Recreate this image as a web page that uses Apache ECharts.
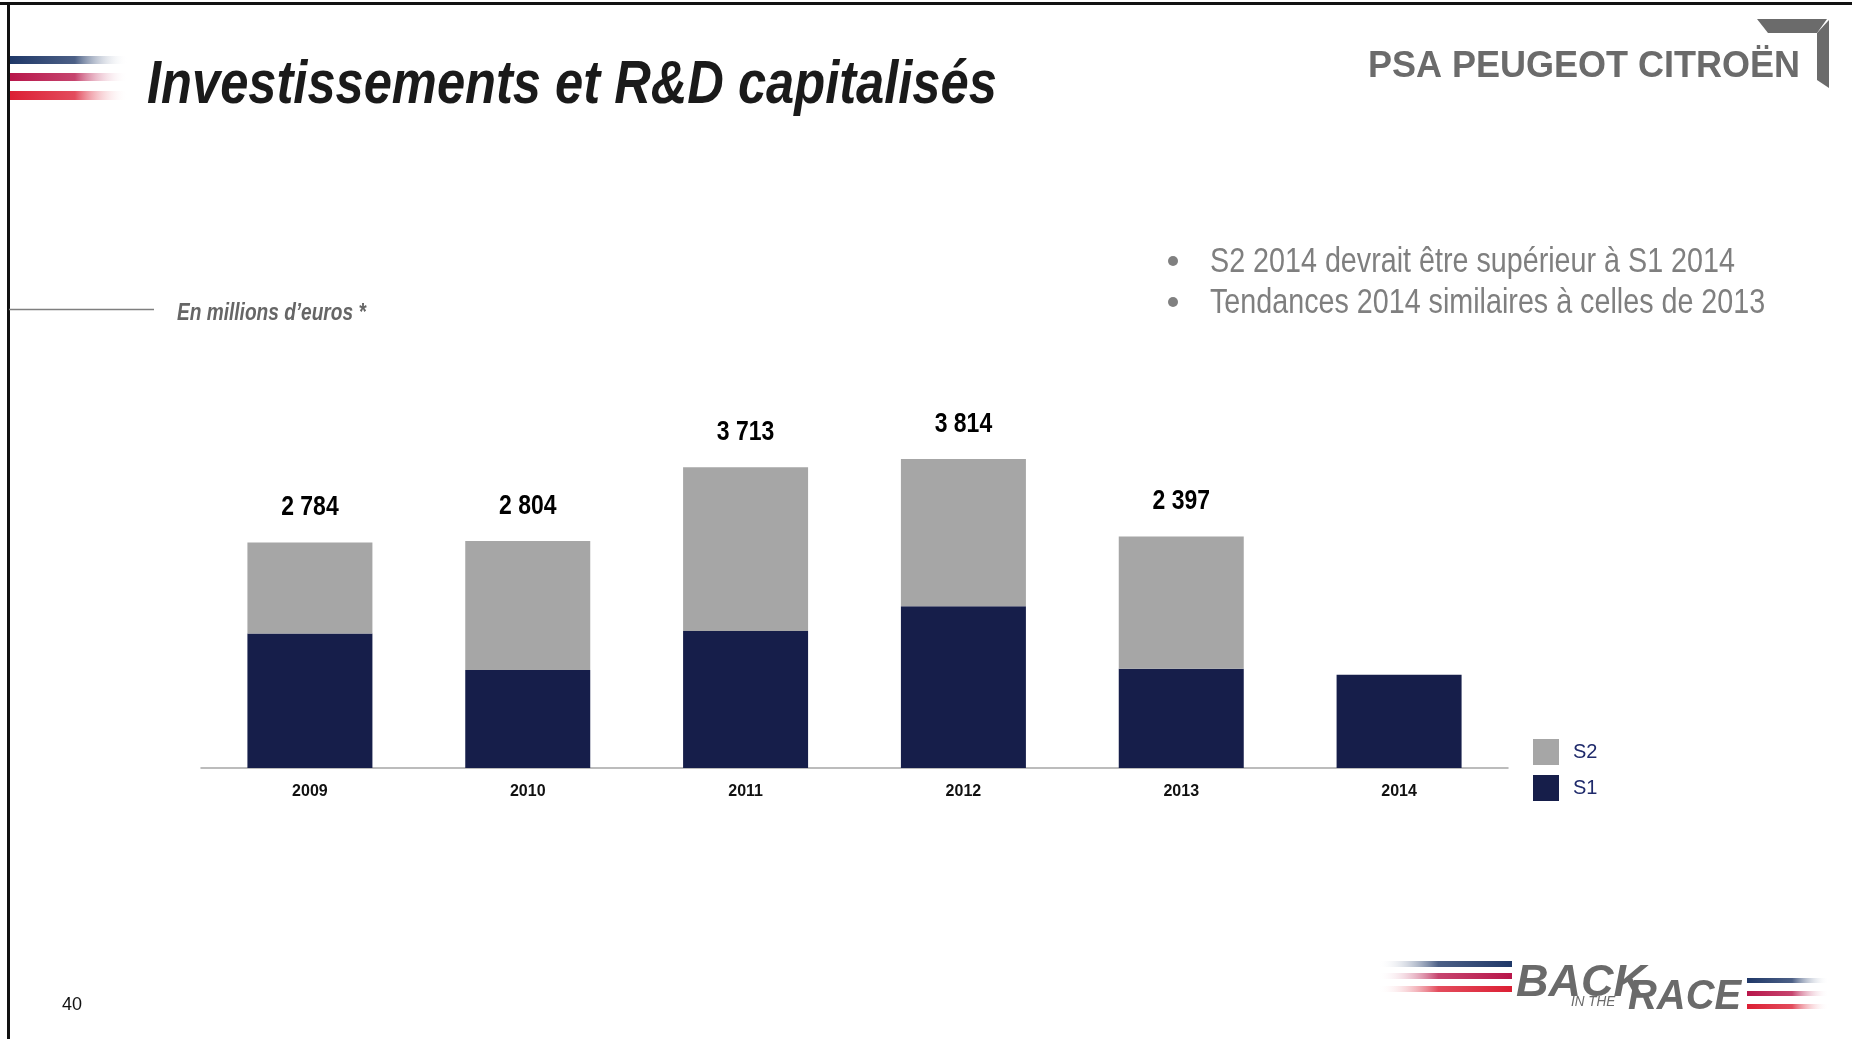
<!DOCTYPE html>
<html>
<head>
<meta charset="utf-8">
<script src="https://cdn.jsdelivr.net/npm/echarts@6/dist/echarts.min.js"></script>
<style>
html,body{margin:0;padding:0;background:#fff;}
#c{width:1852px;height:1039px;}
</style>
</head>
<body>
<div id="c"></div>
<script>
const categories = ['2009','2010','2011','2012','2013','2014'];
const s1 = [1662, 1210, 1691, 1997, 1224, 1152];
const s2 = [1122, 1594, 2022, 1817, 1633, null];
const totalLabels = ['2 784','2 804','3 713','3 814','2 397',''];
const bullets = ['S2 2014 devrait être supérieur à S1 2014','Tendances 2014 similaires à celles de 2013'];

const SANS = '"Liberation Sans",Arial,sans-serif';
const NAVY = '#161e4a';
const GRAY = '#a6a6a6';
const SX = 0.82;

function stripeGrad(c){
  return {type:'linear',x:0,y:0,x2:1,y2:0,colorStops:[
    {offset:0,color:c},{offset:0.55,color:c+'cc'},{offset:1,color:'rgba(255,255,255,0)'}]};
}
function stripeGradR(c){
  return {type:'linear',x:0,y:0,x2:1,y2:0,colorStops:[
    {offset:0,color:'rgba(255,255,255,0)'},{offset:0.45,color:c+'cc'},{offset:1,color:c}]};
}
function ntext(x, y, text, font, fill, sx){
  return {type:'text', x:x, y:y, scaleX:(sx||SX), style:{x:0,y:0,text:text,font:font,fill:fill,verticalAlign:'top'}};
}

const stackTop = categories.map((c,i)=>[i, (s1[i]||0)+(s2[i]||0)]);

const chart = echarts.init(document.getElementById('c'));
chart.setOption({
  backgroundColor:'#fff',
  animation:false,
  grid:{left:201,right:344,top:363,bottom:271},
  legend:{
    orient:'vertical', left:1528, top:734, itemWidth:26, itemHeight:26, itemGap:10,
    icon:'rect', data:['S2','S1'],
    textStyle:{color:'#1f2a6b',fontSize:20,fontFamily:SANS,padding:[0,0,0,9]}
  },
  xAxis:{
    type:'category', data:categories,
    axisLine:{lineStyle:{color:'#a6a6a6',width:1.5}},
    axisTick:{show:false},
    axisLabel:{color:'#111',fontSize:16,fontWeight:'bold',fontFamily:SANS,margin:16}
  },
  yAxis:{type:'value',min:0,max:5000,show:false,splitLine:{show:false}},
  series:[
    {name:'S1',type:'bar',stack:'t',data:s1,barWidth:125,itemStyle:{color:NAVY}},
    {name:'S2',type:'bar',stack:'t',data:s2,barWidth:125,itemStyle:{color:GRAY}},
    {name:'totals',type:'custom',data:stackTop,silent:true,z:5,
     renderItem:function(params, api){
       const i = params.dataIndex;
       const pt = api.coord([api.value(0), api.value(1)]);
       return {type:'text', x:pt[0], y:pt[1]-21, scaleX:SX,
         style:{x:0,y:0,text:totalLabels[i],font:'bold 28px '+SANS,fill:'#000',align:'center',verticalAlign:'bottom'}};
     }}
  ],
  graphic:[
    {type:'rect',shape:{x:0,y:2,width:1852,height:3},style:{fill:'#111'}},
    {type:'rect',shape:{x:7,y:2,width:3,height:1037},style:{fill:'#111'}},
    {type:'rect',shape:{x:10,y:56,width:118,height:8},style:{fill:stripeGrad('#1f3868')}},
    {type:'rect',shape:{x:10,y:73,width:118,height:8},style:{fill:stripeGrad('#b8164a')}},
    {type:'rect',shape:{x:10,y:91,width:118,height:9},style:{fill:stripeGrad('#dc1f34')}},
    ntext(147, 56, 'Investissements et R&D capitalisés', 'italic bold 61px '+SANS, '#1a1a1a', 0.83),
    {type:'text',x:1368,y:49,style:{x:0,y:0,verticalAlign:'top',text:'PSA PEUGEOT CITROËN',fill:'#6b6b6b',font:'bold 36px '+SANS}},
    {type:'polygon',shape:{points:[[1757,19],[1827,19],[1817,33],[1768,33]]},style:{fill:'#6b6b6b'}},
    {type:'polygon',shape:{points:[[1817,33],[1829,20],[1829,88],[1817,80]]},style:{fill:'#6b6b6b'}},
    {type:'line',shape:{x1:9,y1:309.5,x2:154,y2:309.5},style:{stroke:'#7f7f7f',lineWidth:1.5}},
    ntext(177, 302, 'En millions d\u2019euros *', 'italic bold 23px '+SANS, '#666', 0.83),
    {type:'circle',shape:{cx:1173,cy:261,r:5},style:{fill:'#808080'}},
    {type:'circle',shape:{cx:1173,cy:302,r:5},style:{fill:'#808080'}},
    ntext(1210, 245, bullets[0], '35px '+SANS, '#7f7f7f'),
    ntext(1210, 286, bullets[1], '35px '+SANS, '#7f7f7f'),
    {type:'text',x:62,y:996,style:{x:0,y:0,verticalAlign:'top',text:'40',fill:'#111',font:'18px '+SANS}},
    {type:'rect',shape:{x:1378,y:961,width:134,height:6},style:{fill:stripeGradR('#1f3868')}},
    {type:'rect',shape:{x:1378,y:973,width:134,height:6},style:{fill:stripeGradR('#b8164a')}},
    {type:'rect',shape:{x:1378,y:986,width:134,height:6},style:{fill:stripeGradR('#dc1f34')}},
    ntext(1516, 961, 'BACK', 'italic bold 45px '+SANS, '#6a6a6a', 1),
    ntext(1571, 994, 'IN THE', 'italic 15px '+SANS, '#6a6a6a', 0.9),
    ntext(1628, 976, 'RACE', 'italic bold 42px '+SANS, '#6a6a6a', 0.95),
    {type:'rect',shape:{x:1747,y:978,width:82,height:5},style:{fill:stripeGrad('#1f3868')}},
    {type:'rect',shape:{x:1747,y:991,width:82,height:5},style:{fill:stripeGrad('#b8164a')}},
    {type:'rect',shape:{x:1747,y:1004,width:82,height:5},style:{fill:stripeGrad('#dc1f34')}}
  ]
});
</script>
</body>
</html>
